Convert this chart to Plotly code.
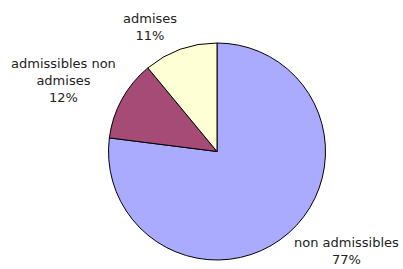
import plotly.graph_objects as go

labels = ["non admissibles", "admissibles non admises", "admises"]
label_text = ["non admissibles", "admissibles non<br>admises", "admises"]
values = [77, 12, 11]
colors = ["#AAAAFF", "#A64A76", "#FFFFD6"]

W, H = 403, 269
# label anchor positions in pixels (centre of text block)
label_px = [(346, 251), (63, 81), (150, 27)]

fig = go.Figure(go.Pie(
    labels=labels,
    values=values,
    sort=False,
    direction="clockwise",
    rotation=0,
    marker=dict(colors=colors, line=dict(color="#000000", width=1)),
    textinfo="none",
    hoverinfo="label+percent",
    showlegend=False,
    domain=dict(x=[108 / W, 326 / W], y=[1 - 260 / H, 1 - 43 / H]),
))

total = sum(values)
for txt, v, (px, py) in zip(label_text, values, label_px):
    fig.add_annotation(
        x=px / W, y=1 - py / H, xref="paper", yref="paper",
        text=f"{txt}<br>{round(100 * v / total)}%",
        showarrow=False, xanchor="center", yanchor="middle",
        font=dict(family="DejaVu Sans", size=13, color="#222222"),
        align="center",
    )

fig.update_layout(
    width=W, height=H,
    margin=dict(l=0, r=0, t=0, b=0),
    paper_bgcolor="white", plot_bgcolor="white",
)
fig.write_html(
    "out.html",
    config={"displayModeBar": False},
    post_script="document.body.style.margin='0';document.body.style.overflow='hidden';",
)
